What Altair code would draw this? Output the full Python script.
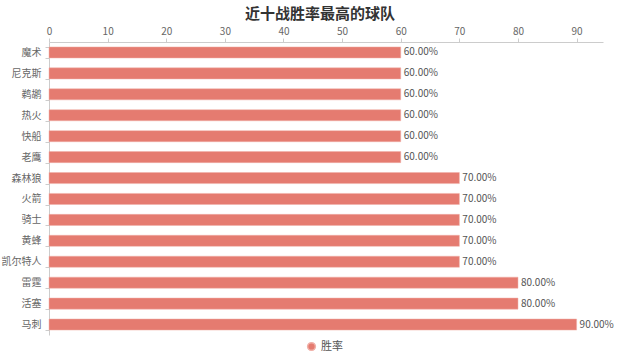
import altair as alt
import pandas as pd

teams = ["魔术", "尼克斯", "鹈鹕", "热火", "快船", "老鹰", "森林狼", "火箭", "骑士", "黄蜂", "凯尔特人", "雷霆", "活塞", "马刺"]
win_rate = [60, 60, 60, 60, 60, 60, 70, 70, 70, 70, 70, 80, 80, 90]
series_name = "胜率"
x_ticks = [0, 10, 20, 30, 40, 50, 60, 70, 80, 90]

df = pd.DataFrame({"team": teams, "rate": win_rate, "series": [series_name] * len(teams)})
df["label"] = df["rate"].map(lambda v: f"{v:.2f}%")

FONT = "Noto Sans CJK SC"
COLOR = "#e57b70"

y_enc = alt.Y("team:N", sort=teams, title=None,
              scale=alt.Scale(paddingInner=0.47, paddingOuter=0.235),
              axis=alt.Axis(tickBand="extent", labelColor="#666", labelFontSize=10, labelFont=FONT,
                            domainColor="#ccc", tickColor="#ccc", tickSize=4, labelPadding=4))

bars = alt.Chart(df).mark_bar(color=COLOR, stroke="#f0b0a8", strokeWidth=0.5).encode(
    x=alt.X("rate:Q", title=None,
            scale=alt.Scale(domain=[0, 94.5], nice=False, zero=True),
            axis=alt.Axis(orient="top", values=x_ticks, grid=False, labelColor="#666",
                          labelFontSize=10, labelFont=FONT, domainColor="#ccc", tickColor="#ccc",
                          tickSize=4, labelPadding=2, labelFlush=False)),
    y=y_enc,
    color=alt.Color("series:N", scale=alt.Scale(range=[COLOR]),
                    legend=alt.Legend(title=None, orient="none", legendX=257, legendY=299,
                                      symbolType="circle", symbolSize=60, labelColor="#555",
                                      labelFontSize=11, labelFont=FONT, direction="horizontal")),
)

labels = alt.Chart(df).mark_text(align="left", baseline="middle", dx=3, fontSize=10,
                                 color="#555", font=FONT).encode(
    x="rate:Q",
    y=alt.Y("team:N", sort=teams),
    text="label:N",
)

chart = (bars + labels).properties(
    width=554, height=293,
    title=alt.TitleParams("近十战胜率最高的球队", fontSize=15, font=FONT, fontWeight="bold",
                          color="#333", anchor="middle", offset=4, dx=-6),
    padding={"left": 49, "top": 42, "right": 37, "bottom": 28},
    autosize=alt.AutoSizeParams(type="none"),
).configure_view(stroke=None)

chart.save("out.html", embed_options={"renderer": "svg", "actions": False})
